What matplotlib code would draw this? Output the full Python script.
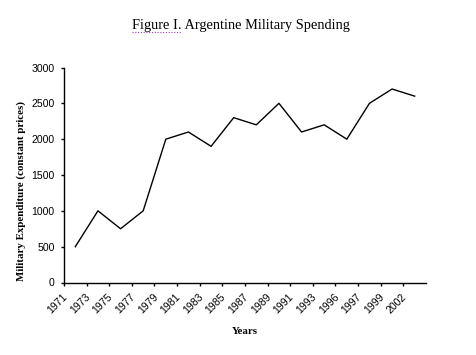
import matplotlib
matplotlib.use("Agg")
import matplotlib.pyplot as plt
from matplotlib.lines import Line2D
from matplotlib.transforms import ScaledTranslation
import numpy as np

years = ["1971", "1973", "1975", "1977", "1979", "1981", "1983", "1985",
         "1987", "1989", "1991", "1993", "1996", "1997", "1999", "2002"]
spending = [500, 1000, 750, 1000, 2000, 2100, 1900, 2300,
            2200, 2500, 2100, 2200, 2000, 2500, 2700, 2600]
y_ticks = [0, 500, 1000, 1500, 2000, 2500, 3000]

W, H = 477, 355
fig = plt.figure(figsize=(W / 100, H / 100), dpi=100)
fig.patch.set_facecolor("white")

left, right, top, bottom = 64, 426, 67.5, 282.5
ax = fig.add_axes([left / W, 1 - bottom / H, (right - left) / W, (bottom - top) / H])

x = np.arange(len(years))
ax.plot(x, spending, color="black", linewidth=1.0)

ax.set_xlim(-0.5, len(years) - 0.5)
ax.set_ylim(0, 3000)

for s in ["top", "right"]:
    ax.spines[s].set_visible(False)
for s in ["left", "bottom"]:
    ax.spines[s].set_linewidth(1.0)
    ax.spines[s].set_color("black")

sans = ["Liberation Sans", "DejaVu Sans"]
serif = ["Liberation Serif", "DejaVu Serif"]

ax.set_yticks(y_ticks)
ax.set_yticklabels([str(v) for v in y_ticks], fontfamily=sans, fontsize=7.6)
ax.tick_params(axis="y", direction="out", length=2.5, width=1.0, pad=4.3)

# category labels at centers, tick marks at boundaries
ax.set_xticks(x)
ax.set_xticklabels(years, fontfamily=sans, fontsize=7.6, rotation=45,
                   ha="right", va="top")
ax.tick_params(axis="x", which="major", length=0, pad=7.0)
ax.set_xticks(np.arange(-0.5, len(years) - 0.5, 1.0), minor=True)
ax.tick_params(axis="x", which="minor", direction="out", length=2.5, width=1.0)
off = ScaledTranslation(-6 / 100, 0, fig.dpi_scale_trans)
for lab in ax.get_xticklabels():
    lab.set_transform(lab.get_transform() + off)

ax.set_xlabel("Years", fontfamily=serif, fontweight="bold", fontsize=7.8)
ax.xaxis.set_label_coords(0.5, -(332 - bottom) / (bottom - top), transform=ax.transAxes)
ax.xaxis.label.set_va("center")

ax.set_ylabel("Military Expenditure (constant prices)", fontfamily=serif,
              fontweight="bold", fontsize=7.8)
ax.yaxis.set_label_coords((21 - left) / (right - left), (bottom - 191) / (bottom - top))
ax.yaxis.label.set_va("center")
ax.yaxis.label.set_ha("center")

title = fig.text(241 / W, 1 - 25.5 / H, "Figure I. Argentine Military Spending",
                 fontfamily=serif, fontsize=10.4, ha="center", va="center")

# dotted (spell-check style) underline beneath "Figure I."
fig.canvas.draw()
r = fig.canvas.get_renderer()
tb = title.get_window_extent(r)
probe = fig.text(0, 0, "Figure I.", fontfamily=serif, fontsize=10.4)
pw = probe.get_window_extent(r).width
probe.remove()
x0 = tb.x0 / W
x1 = (tb.x0 + pw) / W
yline = 1 - 32 / H
fig.add_artist(Line2D([x0, x1], [yline, yline], transform=fig.transFigure,
                      color="#9a3fb0", linewidth=0.8, linestyle=(0, (1, 1.5))))

fig.savefig("out.png", dpi=100, facecolor="white")
